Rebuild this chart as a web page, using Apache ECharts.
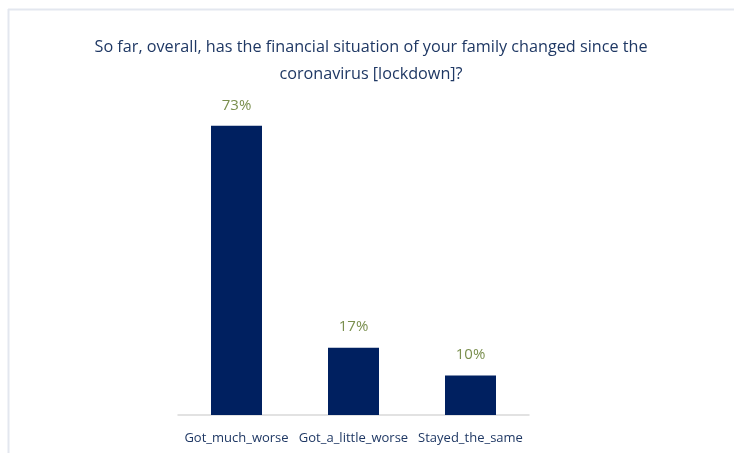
<!DOCTYPE html>
<html>
<head>
<meta charset="utf-8">
<script src="https://cdn.jsdelivr.net/npm/echarts@6/dist/echarts.min.js"></script>
<style>
  html, body { margin: 0; padding: 0; background: #ffffff; }
  #chart { width: 734px; height: 453px; }
</style>
</head>
<body>
<div id="chart"></div>
<script>
// Answer categories and share of respondents (%)
const categories = ['Got_much_worse', 'Got_a_little_worse', 'Stayed_the_same'];
const shares = [73, 17, 10];
const titleLines = [
  'So far, overall, has the financial situation of your family changed since the',
  'coronavirus [lockdown]?'
];

const FONT = '"Open Sans", sans-serif';
const chart = echarts.init(document.getElementById('chart'), null, { renderer: 'canvas' });

chart.setOption({
  backgroundColor: '#ffffff',
  animation: false,
  title: {
    text: titleLines.join('\n'),
    left: 366,
    textAlign: 'center',
    top: 29,
    textStyle: {
      color: '#1f3864',
      fontFamily: FONT,
      fontSize: 16.2,
      fontWeight: 'normal',
      lineHeight: 27
    }
  },
  graphic: [
    // light frame along top and left edges
    { type: 'line', shape: { x1: 8, y1: 9.5, x2: 734, y2: 9.5 }, style: { stroke: '#e3e7ef', lineWidth: 2 } },
    { type: 'line', shape: { x1: 8.5, y1: 9, x2: 8.5, y2: 453 }, style: { stroke: '#e3e7ef', lineWidth: 2 } }
  ],
  grid: { left: 178, width: 351, top: 98, bottom: 38 },
  xAxis: {
    type: 'category',
    data: categories,
    axisTick: { show: false },
    axisLine: { lineStyle: { color: '#d9d9d9', width: 1.5 } },
    axisLabel: {
      color: '#1f3864',
      fontFamily: FONT,
      fontSize: 13,
      margin: 17,
      interval: 0
    }
  },
  yAxis: {
    type: 'value',
    min: 0,
    max: 80,
    show: false,
    splitLine: { show: false }
  },
  series: [{
    type: 'bar',
    data: shares,
    barWidth: 51,
    itemStyle: { color: '#002060' },
    label: {
      show: true,
      position: 'top',
      distance: 13,
      formatter: '{c}%',
      color: '#7a8f4e',
      fontFamily: FONT,
      fontSize: 15
    }
  }]
});
</script>
</body>
</html>
